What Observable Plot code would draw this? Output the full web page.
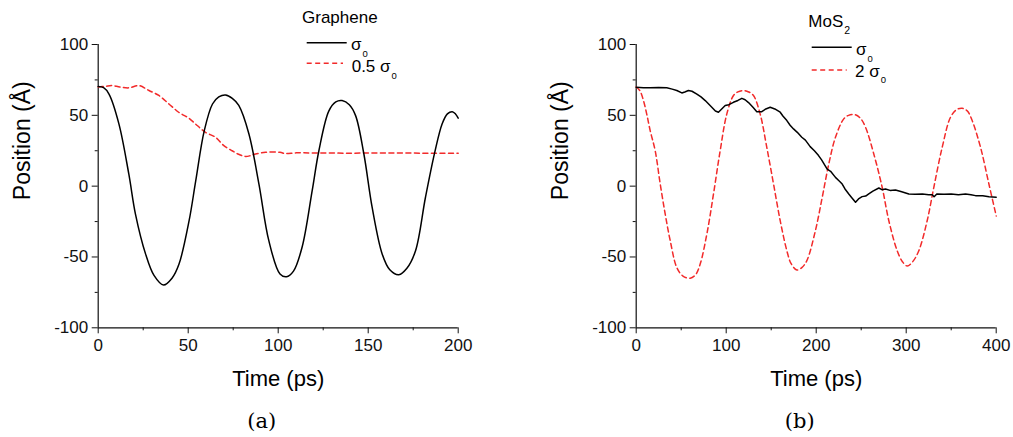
<!DOCTYPE html>
<html>
<head>
<meta charset="utf-8">
<script src="https://cdn.jsdelivr.net/npm/d3@7"></script>
<script src="https://cdn.jsdelivr.net/npm/@observablehq/plot@0.6"></script>
<style>
  html, body { margin: 0; padding: 0; background: #fff; }
  #wrap { position: relative; width: 1013px; height: 437px; overflow: hidden; font-family: "Liberation Sans", Arial, sans-serif; }
  #wrap > * { position: absolute; }
</style>
</head>
<body>
<div id="wrap"></div>
<script>
// ---------- Data ----------
// (a) Graphene, sigma_0
const grT1 = [0, 3, 6, 11.5, 17, 20.7, 26.3, 31, 36.3, 41, 44.9, 50.5, 54.2, 58.9, 63.5, 67, 70.7, 74.5, 78.1, 83.7, 89.3, 94.8, 101, 104.6, 108.5, 113.3, 118.9, 122.6, 128.1, 132, 135.5, 139.5, 143, 147.6, 152.2, 157.8, 162, 167, 171.5, 176.3, 181.8, 187, 191.1, 194, 196.7, 198.5, 200];
const grY1 = [70.3, 69.5, 65, 44, 8.6, -19.7, -47.8, -63, -69.8, -65, -55, -24.4, 3.9, 39, 58, 63, 64.4, 62, 57, 37, 1.5, -38.5, -62, -64, -60, -43, -3, 25, 53, 59.5, 60.4, 57.5, 49.8, 22.7, -15, -48, -59, -62.5, -58, -45.6, -8, 24, 44, 51, 52.6, 51, 48];
// (a) Graphene, 0.5 sigma_0
const grT2 = [0, 4, 7.9, 12, 17.1, 22.6, 28.2, 33.7, 39.3, 44.9, 50.3, 55, 59.6, 65.2, 69.8, 74.4, 78, 81.8, 84.5, 87.4, 93, 101, 104, 110, 120, 140, 160, 180, 200];
const grY2 = [70, 70.5, 71, 70, 69.4, 71, 67.5, 64, 58, 52, 48, 42.8, 38, 34.5, 28.6, 25, 22.5, 21, 21.5, 22.7, 23.9, 23.9, 23, 23.5, 23.4, 23.3, 23.4, 23.3, 23.3];
// (b) MoS2, sigma_0
const moT1 = [0, 8, 15.6, 25, 34, 40, 45.1, 50.7, 54, 58, 62, 67.4, 72, 76.7, 84, 88, 91.4, 95, 98.9, 103, 108, 113, 117.4, 121, 124.8, 130, 134, 139.6, 144, 148.9, 154, 160, 163, 167.4, 171, 174.8, 179, 184, 188, 193.3, 198, 202.6, 206, 212.2, 216, 221.4, 225, 228.9, 232, 236.2, 240, 243.7, 247, 251, 255, 258.4, 263, 269.6, 273, 277, 282, 288.1, 295, 302.9, 310, 318, 325, 328.9, 331, 334, 342, 350, 358, 365.9, 372, 377, 385, 392, 400];
const moY1 = [69.8, 69.5, 69.4, 69.6, 69.4, 68.5, 67.5, 65.8, 66.5, 67.5, 67, 65, 63, 60.4, 55.7, 53, 52.2, 54.5, 56.9, 57.5, 59.2, 60.5, 62, 61, 59, 55.5, 52.6, 52.6, 54.5, 55.7, 54.5, 52.2, 49.5, 46.3, 43, 40.4, 38, 34.5, 32.5, 27.9, 25, 21.6, 18.5, 12, 10.5, 6.2, 4, 1.5, -2, -5.5, -8.5, -11.4, -9, -7.4, -7, -5.5, -3.5, -1.3, -2.5, -2, -3, -2.7, -4, -5.5, -5.8, -5.5, -6, -6, -7.5, -5.5, -5.8, -5.5, -6, -5.5, -6, -6.7, -6.8, -7.5, -7.8];
// (b) MoS2, 2 sigma_0
const moT2 = [0, 4, 8.1, 12, 15.6, 21.1, 26.7, 32.2, 37.8, 45.1, 52, 60, 66, 71.1, 78.5, 85.9, 93.3, 100.7, 108.1, 113, 119.2, 125, 130.3, 137.7, 145.1, 152.6, 160, 167.4, 172, 178.5, 184, 189.6, 198.9, 206.7, 214, 221.4, 230.6, 236, 242.9, 249, 254.8, 264, 273.3, 280.7, 290, 296, 301.1, 307, 314, 323.3, 330.7, 340, 349.2, 356, 362.2, 368, 373.3, 382.6, 391.9, 400];
const moY2 = [70, 67.5, 60.4, 50, 39, 25, 1.5, -19.6, -38.5, -57.4, -63.5, -65, -62.5, -55, -33.8, -5.5, 25, 51, 64, 66.5, 67.5, 66.5, 64, 51, 27.4, 1.5, -24.4, -45.6, -54.5, -59.2, -57.5, -52.6, -32, -7.9, 15.7, 34.5, 47.5, 50, 50.5, 48, 41.6, 22.7, -0.8, -24.4, -45.6, -53.5, -56.4, -53.5, -45.6, -24.4, -0.8, 27.4, 48.6, 54, 55, 53, 46.3, 27.4, 1.5, -21];

// Ticks
const yMajor = [-100, -50, 0, 50, 100];
const yMinor = [-75, -25, 25, 75];
const xMajorA = [0, 50, 100, 150, 200];
const xMinorA = [25, 75, 125, 175];
const xMajorB = [0, 100, 200, 300, 400];
const xMinorB = [50, 150, 250, 350];
const xLabel = "Time (ps)";
const yLabel = "Position (Å)";

const zip = (T, Y) => T.map((t, i) => ({t, v: Y[i]}));
const RED = "#f22a2a";
const INK = "#111";

function panel({xDomain, xMajor, xMinor, series, width, marginLeft, marginRight}) {
  return Plot.plot({
    width, height: 400,
    marginLeft, marginRight, marginTop: 44, marginBottom: 72.7,
    x: {domain: xDomain},
    y: {domain: [-100, 100]},
    style: {fontFamily: '"Liberation Sans", Arial, sans-serif', fontSize: "17px", color: INK, background: "transparent", overflow: "visible"},
    marks: [
      Plot.axisX({ticks: xMajor, tickSize: 6, tickPadding: 5, label: null, tickFormat: d => String(d), fontSize: 17}),
      Plot.axisX({ticks: xMinor, tickSize: 3, text: null, label: null}),
      Plot.axisY({ticks: yMajor, tickSize: 6, tickPadding: 4, label: null, tickFormat: d => String(d), fontSize: 17}),
      Plot.axisY({ticks: yMinor, tickSize: 3, text: null, label: null}),
      Plot.ruleX([xDomain[0]], {stroke: INK, strokeWidth: 1.2}),
      Plot.ruleY([-100], {stroke: INK, strokeWidth: 1.2}),
      ...series,
      Plot.text([xLabel], {frameAnchor: "bottom", dy: 50.7, fontSize: 22, lineAnchor: "middle", fill: "#000"}),
      Plot.text([yLabel], {frameAnchor: "left", dx: -76, dy: 14, rotate: -90, fontSize: 23, lineAnchor: "middle", fill: "#000"})
    ]
  });
}

const wrap = document.getElementById("wrap");

const left = panel({
  xDomain: [0, 200], xMajor: xMajorA, xMinor: xMinorA,
  width: 500, marginLeft: 97.7, marginRight: 42.3,
  series: [
    Plot.line(zip(grT2, grY2), {x: "t", y: "v", stroke: RED, strokeWidth: 1.5, strokeDasharray: "5,3.5", curve: "catmull-rom"}),
    Plot.line(zip(grT1, grY1), {x: "t", y: "v", stroke: "#000", strokeWidth: 1.5, curve: "catmull-rom"})
  ]
});
left.style.left = "0px"; left.style.top = "0px";
wrap.appendChild(left);

const right = panel({
  xDomain: [0, 400], xMajor: xMajorB, xMinor: xMinorB,
  width: 493, marginLeft: 115.7, marginRight: 17.3,
  series: [
    Plot.line(zip(moT2, moY2), {x: "t", y: "v", stroke: RED, strokeWidth: 1.5, strokeDasharray: "5,3.5", curve: "catmull-rom"}),
    Plot.line(zip(moT1, moY1), {x: "t", y: "v", stroke: "#000", strokeWidth: 1.5, curve: "linear"})
  ]
});
right.style.left = "520px"; right.style.top = "0px";
wrap.appendChild(right);

// ---------- Legends and captions overlay ----------
const ov = d3.select(wrap).append("svg")
  .attr("width", 1013).attr("height", 437)
  .style("left", "0px").style("top", "0px")
  .style("font-family", '"Liberation Sans", Arial, sans-serif');

function legendText(x, y, main, sub, subDy, size = 17, subSize = 9.5) {
  const t = ov.append("text").attr("x", x).attr("y", y).attr("font-size", size).attr("fill", "#000");
  t.append("tspan").text(main);
  t.append("tspan").attr("font-size", subSize).attr("dy", subDy).attr("dx", 1).text(sub);
}
function legendLine(x1, x2, y, dashed) {
  ov.append("line").attr("x1", x1).attr("x2", x2).attr("y1", y).attr("y2", y)
    .attr("stroke", dashed ? RED : "#000").attr("stroke-width", 1.5)
    .attr("stroke-dasharray", dashed ? "5,3.5" : null);
}

// (a) legend
ov.append("text").attr("x", 302).attr("y", 22.7).attr("font-size", 17).text("Graphene");
legendLine(306.7, 346.7, 42.7, false);
legendText(351, 50, "σ", "0", 6.5);
legendLine(306.7, 343, 63.3, true);
legendText(351.7, 72, "0.5 σ", "0", 6.5);

// (b) legend
legendText(808.3, 27.3, "MoS", "2", 7, 17, 10.5);
legendLine(811.7, 851.7, 47.3, false);
legendText(856, 55, "σ", "0", 6.5);
legendLine(811.7, 846.7, 70, true);
legendText(855, 76.5, "2 σ", "0", 6.5);

// captions
ov.append("text").attr("x", 261.7).attr("y", 428).attr("text-anchor", "middle")
  .attr("font-family", '"DejaVu Serif", "Liberation Serif", serif').attr("font-size", 21).text("(a)");
ov.append("text").attr("x", 799.7).attr("y", 428).attr("text-anchor", "middle")
  .attr("font-family", '"DejaVu Serif", "Liberation Serif", serif').attr("font-size", 21).text("(b)");
</script>
</body>
</html>
